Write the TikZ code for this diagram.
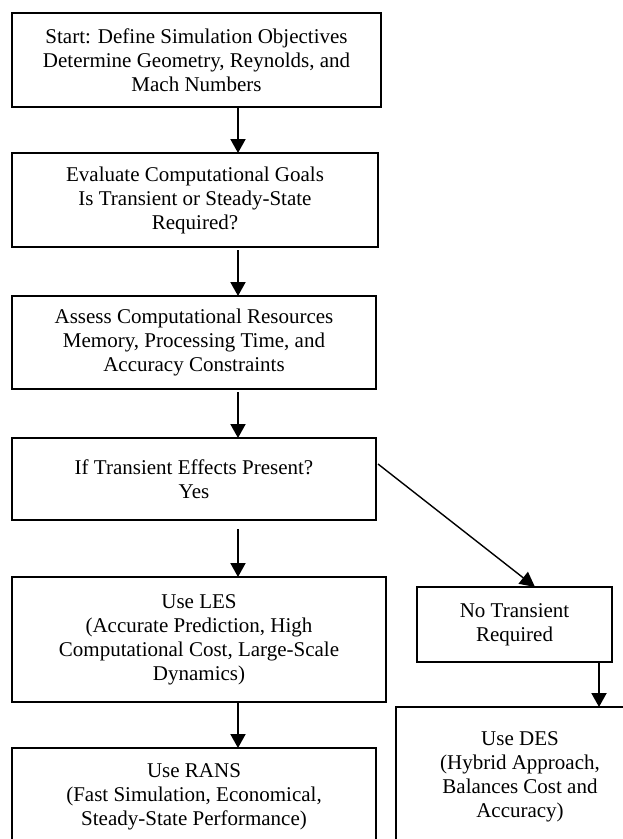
\documentclass[tikz,border=0pt]{standalone}
\usepackage{fontspec}
\setmainfont{Liberation Serif}
\usetikzlibrary{arrows.meta}
\begin{document}
\begin{tikzpicture}[x=1pt,y=-1pt,
  box/.style={draw=black, line width=2.6pt, fill=white, inner sep=0pt, outer sep=0pt,
    align=center, font=\fontsize{21}{24}\selectfont},
  arr/.style={line width=2pt, -{Triangle[length=14pt,width=15pt]}},
  arrthin/.style={line width=1.4pt, -{Triangle[length=15pt,width=15pt]}}]
\useasboundingbox (0,0) rectangle (623,839);
\clip (0,0) rectangle (623,839);
\fill[white] (0,0) rectangle (623,839);
\coordinate (mx) at (238,0);
\coordinate (dx) at (599,0);
\node[box, minimum width=369pt, minimum height=94pt] (b1) at (196.5,60)
  {Start: Define Simulation Objectives\\Determine Geometry, Reynolds, and\\Mach Numbers};
\node[box, minimum width=366pt, minimum height=94pt] (b2) at (195,200)
  {Evaluate Computational Goals\\Is Transient or Steady-State\\Required?};
\node[box, minimum width=364pt, minimum height=93pt] (b3) at (194,342.5)
  {Assess Computational Resources\\Memory, Processing Time, and\\Accuracy Constraints};
\node[box, minimum width=364pt, minimum height=82pt] (b4) at (194,479)
  {If Transient Effects Present?\\Yes};
\node[box, minimum width=374pt, minimum height=125pt] (les) at (199,639.5)
  {Use LES\\(Accurate Prediction, High\\Computational Cost, Large-Scale\\Dynamics)};
\node[box, minimum width=364pt, minimum height=98pt] (rans) at (194,797)
  {Use RANS\\(Fast Simulation, Economical,\\Steady-State Performance)};
\node[box, minimum width=195pt, minimum height=75pt] (nt) at (514.5,624.5)
  {No Transient\\Required};
\node[box, minimum width=248pt, minimum height=139pt] (des) at (520,776.5)
  {Use DES\\(Hybrid Approach,\\Balances Cost and\\Accuracy)};
\draw[arr] (b1.south -| mx) -- (b2.north -| mx);
\draw[arr, shorten <=3pt] (b2.south -| mx) -- (b3.north -| mx);
\draw[arr, shorten <=3pt] (b3.south -| mx) -- (b4.north -| mx);
\draw[arr, shorten <=9pt] (b4.south -| mx) -- (les.north -| mx);
\draw[arr] (les.south -| mx) -- (rans.north -| mx);
\draw[arrthin] ([xshift=2pt,yshift=15pt]b4.east) -- ([xshift=20.5pt]nt.north);
\draw[arr] (nt.south -| dx) -- (des.north -| dx);
\end{tikzpicture}
\end{document}
